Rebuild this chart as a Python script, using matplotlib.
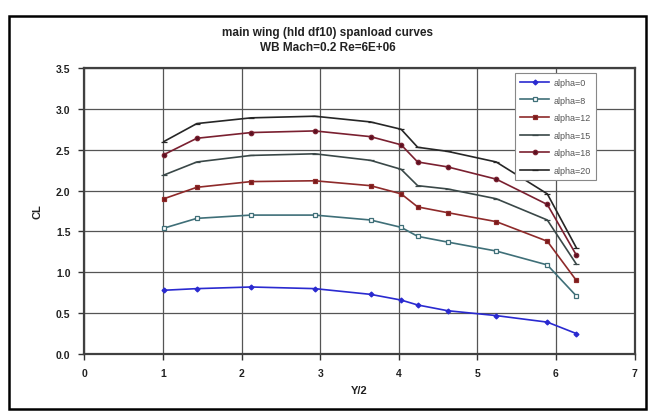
import matplotlib
matplotlib.use("Agg")
import matplotlib.pyplot as plt
from matplotlib.patches import Rectangle

plt.rcParams['font.family'] = ['Liberation Sans', 'DejaVu Sans']

# spanwise stations (Y/2)
y2 = [1.01, 1.43, 2.12, 2.93, 3.64, 4.03, 4.24, 4.62, 5.24, 5.89, 6.26]

# section CL per angle of attack
cl_a0  = [0.78, 0.80, 0.82, 0.80, 0.73, 0.66, 0.60, 0.53, 0.47, 0.39, 0.25]
cl_a8  = [1.54, 1.66, 1.70, 1.70, 1.64, 1.55, 1.44, 1.37, 1.26, 1.09, 0.71]
cl_a12 = [1.90, 2.04, 2.11, 2.12, 2.06, 1.96, 1.80, 1.73, 1.62, 1.38, 0.90]
cl_a15 = [2.19, 2.35, 2.43, 2.45, 2.37, 2.26, 2.06, 2.02, 1.90, 1.64, 1.10]
cl_a18 = [2.44, 2.64, 2.71, 2.73, 2.66, 2.56, 2.35, 2.29, 2.14, 1.83, 1.21]
cl_a20 = [2.60, 2.82, 2.89, 2.91, 2.84, 2.75, 2.53, 2.48, 2.35, 1.96, 1.30]

labels = ['alpha=0', 'alpha=8', 'alpha=12', 'alpha=15', 'alpha=18', 'alpha=20']
series = [cl_a0, cl_a8, cl_a12, cl_a15, cl_a18, cl_a20]
colors = ['#2a2ad0', '#3f6f78', '#8e2a2a', '#3a4848', '#7a2030', '#262626']
markers = ['D', 's', 's', '_', 'o', '_']
mfaces = ['#2a2ad0', 'white', '#7a1a1a', '#3a4848', '#5a1020', '#262626']
msizes = [2.5, 3.2, 3.2, 4.5, 3.2, 4.5]

fig = plt.figure(figsize=(6.55, 4.14), dpi=100)
fig.patches.append(Rectangle((9/655, 1 - 410/414), 637/655, 393/414,
                             transform=fig.transFigure, fill=False,
                             edgecolor='black', linewidth=1.8))

ax = fig.add_axes([84.5/655, 1 - 355/414, 550/655, 286/414])

for lab, vals, c, m, mf, ms in zip(labels, series, colors, markers, mfaces, msizes):
    ax.plot(y2, vals, color=c, linewidth=1.2, marker=m, markersize=ms,
            markerfacecolor=mf, markeredgecolor=c, markeredgewidth=0.9, label=lab)

ax.set_xlim(0, 7)
ax.set_ylim(0, 3.5)
ax.set_xticks(range(0, 8))
ax.set_yticks([0.0, 0.5, 1.0, 1.5, 2.0, 2.5, 3.0, 3.5])
ax.set_yticklabels(['%.1f' % v for v in ax.get_yticks()])
ax.grid(True, color='#555555', linewidth=0.9)
ax.set_axisbelow(True)
for s in ax.spines.values():
    s.set_color('#404040')
    s.set_linewidth(1.6)
ax.tick_params(direction='out', length=4, width=1, colors='#333333',
               labelsize=7.5, pad=6)
for t in ax.get_xticklabels() + ax.get_yticklabels():
    t.set_fontweight('bold')
    t.set_color('#222222')

ax.set_xlabel('Y/2', fontsize=8, fontweight='bold', color='#222222', labelpad=5)
ax.set_ylabel('CL', fontsize=8, fontweight='bold', color='#222222', labelpad=10)

fig.text(0.5, 1 - 33/414, 'main wing (hld df10) spanload curves',
         ha='center', va='center', fontsize=8.5, fontweight='bold', color='#222222')
fig.text(0.5, 1 - 48/414, 'WB Mach=0.2 Re=6E+06',
         ha='center', va='center', fontsize=8.5, fontweight='bold', color='#222222')

leg = ax.legend(loc='upper right', bbox_to_anchor=(601/655, 1 - 69/414),
                bbox_transform=fig.transFigure, fontsize=6.5, frameon=True,
                fancybox=False, handlelength=3.2, labelspacing=0.95,
                borderpad=0.6, handletextpad=0.5)
leg.get_frame().set_edgecolor('#888888')
leg.get_frame().set_linewidth(0.8)
leg.get_frame().set_alpha(1)
for t in leg.get_texts():
    t.set_color('#555555')

fig.savefig('out.png', dpi=100)
